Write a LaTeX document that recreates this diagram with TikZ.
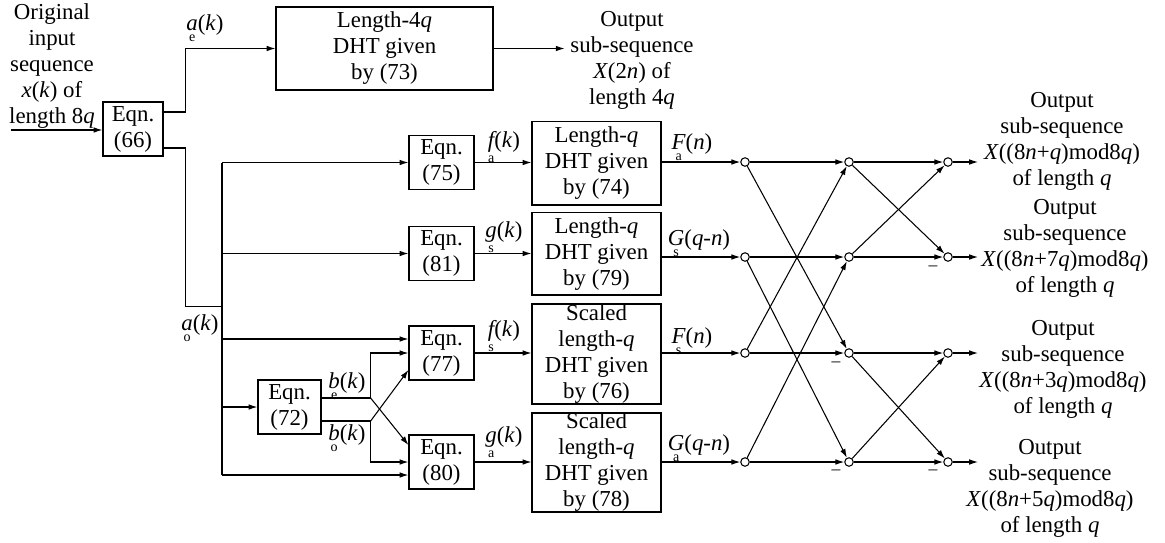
\documentclass[tikz,border=0pt]{standalone}
\usepackage{fontspec}
\setmainfont{Liberation Serif}
\usetikzlibrary{arrows.meta,calc}
\newcommand{\stk}[3][6pt]{\setbox0\hbox{\itshape #2}\rlap{\hbox to\wd0{\hss\raisebox{-#1}{\fontsize{8}{8}\selectfont #3}\hss}}\box0}
\begin{document}
\begin{tikzpicture}[x=0.02cm,y=-0.02cm, line width=0.6pt,
  every node/.style={font=\fontsize{13}{14.8}\selectfont},
  box/.style={draw, line width=0.7pt, align=center, inner sep=0pt},
  eqn/.style={box, minimum width=1.3cm, minimum height=1.08cm},
  dht/.style={box, minimum width=2.58cm},
  lbl/.style={inner sep=0pt, align=center},
  bn/.style={draw, circle, minimum size=0.17cm, inner sep=0pt, line width=0.6pt},
  arr/.style={-{Latex[length=5pt,width=3.2pt]}},
  minus/.style={inner sep=0pt, font=\fontsize{10}{10}\selectfont}
]
\useasboundingbox (0,0) rectangle (1165,542);

% text blocks
\node[lbl] (src) at (52,66) {Original\\input\\sequence\\\textit{x}(\textit{k}) of\\length 8\textit{q}};
\node[lbl] (o0) at (632,60) {Output\\sub-sequence\\\textit{X}(2\textit{n}) of\\length 4\textit{q}};
\node[lbl] (o1) at (1062,141) {Output\\sub-sequence\\\textit{X}((8\textit{n}+\textit{q})mod8\textit{q})\\of length \textit{q}};
\node[lbl] (o2) at (1065,248) {Output\\sub-sequence\\\textit{X}((8\textit{n}+7\textit{q})mod8\textit{q})\\of length \textit{q}};
\node[lbl] (o3) at (1063,369) {Output\\sub-sequence\\\textit{X}((8\textit{n}+3\textit{q})mod8\textit{q})\\of length \textit{q}};
\node[lbl] (o4) at (1050,488) {Output\\sub-sequence\\\textit{X}((8\textit{n}+5\textit{q})mod8\textit{q})\\of length \textit{q}};

% boxes
\node[box, minimum width=1.2cm, minimum height=1.08cm] (eq66) at (133,129) {Eqn.\\(66)};
\node[box, minimum width=4.34cm, minimum height=1.66cm] (dht73) at (384.5,48.5) {Length-4\textit{q}\\DHT given\\by (73)};
\node[eqn] (eq75) at (441.5,162.5) {Eqn.\\(75)};
\node[eqn] (eq81) at (441.5,253.5) {Eqn.\\(81)};
\node[eqn] (eq77) at (441.5,353) {Eqn.\\(77)};
\node[eqn] (eq80) at (441.5,462) {Eqn.\\(80)};
\node[eqn, minimum width=1.26cm] (eq72) at (289.5,407) {Eqn.\\(72)};
\node[dht, minimum height=1.67cm] (dht74) at (596.5,163.3) {Length-\textit{q}\\DHT given\\by (74)};
\node[dht, minimum height=1.65cm] (dht79) at (596.5,253.8) {Length-\textit{q}\\DHT given\\by (79)};
\node[dht, minimum height=2.0cm] (dht76) at (596.5,354) {Scaled\\length-\textit{q}\\DHT given\\by (76)};
\node[dht, minimum height=1.98cm] (dht78) at (596.5,462.5) {Scaled\\length-\textit{q}\\DHT given\\by (78)};

% butterfly nodes
\foreach \r/\y in {1/162,2/257,3/353,4/462}{
  \node[bn] (nA\r) at (745,\y) {};
  \node[bn] (nB\r) at (849,\y) {};
  \node[bn] (nC\r) at (948,\y) {};
  \coordinate (e\r) at ($(nC\r)+(30,0)$);
}

% coordinates
\coordinate (xin) at (11,130);
\coordinate (bj) at (222,306.5);
\coordinate (in77a) at ($(eq77.west)+(0,-14)$);
\coordinate (in77b) at (eq77.west);
\coordinate (in77c) at ($(eq77.west)+(0,17)$);
\coordinate (in80a) at ($(eq80.west)+(0,-17)$);
\coordinate (in80b) at (eq80.west);
\coordinate (in80c) at ($(eq80.west)+(0,13)$);
\coordinate (ebe) at ($(eq72.east)+(0,-9)$);
\coordinate (ebo) at ($(eq72.east)+(0,14)$);
\coordinate (jbe) at ($(eq72.east)+(49,-9)$);
\coordinate (jbo) at ($(eq72.east)+(49,14)$);
\coordinate (t0) at ($(dht73.east)+(71,0)$);

% left part
\draw[arr] (xin) -- (eq66.west |- xin);
\draw[arr] ($(eq66.east)+(0,-17)$) -- ++(22,0) |- (dht73.west);
\draw[arr] (dht73.east) -- (t0);
\draw ($(eq66.east)+(0,19)$) -- ++(22,0) |- (bj);
\draw (bj |- eq75.west) -- (bj |- in80c);
\draw[arr] (bj |- eq75.west) -- (eq75.west);
\draw[arr] (bj |- eq81.west) -- (eq81.west);
\draw[arr] (bj |- in77a) -- (in77a);
\draw[arr] (bj |- eq72.west) -- (eq72.west);
\draw[arr] (bj |- in80c) -- (in80c);

% eqn 72 outputs
\draw (ebe) -- (jbe);
\draw[arr] (jbe) |- (in77b);
\draw[arr] (jbe) -- (in80a);
\draw (ebo) -- (jbo);
\draw[arr] (jbo) |- (in80b);
\draw[arr] (jbo) -- (in77c);

% eqn -> dht
\draw[arr] (eq75.east) -- (eq75.east -| dht74.west);
\draw[arr] (eq81.east) -- (eq81.east -| dht79.west);
\draw[arr] (eq77.east) -- (eq77.east -| dht76.west);
\draw[arr] (eq80.east) -- (eq80.east -| dht78.west);

% dht -> butterfly
\draw[arr] (dht74.east |- nA1) -- (nA1);
\draw[arr] (dht79.east |- nA2) -- (nA2);
\draw[arr] (dht76.east |- nA3) -- (nA3);
\draw[arr] (dht78.east |- nA4) -- (nA4);

% butterfly stage 1
\foreach \r in {1,2,3,4}{\draw[arr] (nA\r) -- (nB\r);}
\draw[arr] (nA1) -- (nB3);
\draw[arr] (nA3) -- (nB1);
\draw[arr] (nA2) -- (nB4);
\draw[arr] (nA4) -- (nB2);
% stage 2
\foreach \r in {1,2,3,4}{\draw[arr] (nB\r) -- (nC\r);}
\draw[arr] (nB1) -- (nC2);
\draw[arr] (nB2) -- (nC1);
\draw[arr] (nB3) -- (nC4);
\draw[arr] (nB4) -- (nC3);
% outputs
\foreach \r in {1,2,3,4}{\draw[arr] (nC\r) -- (e\r);}

% minus signs
\node[minus] (m1) at ($(nB3)+(-13,11)$) {--};
\node[minus] (m2) at ($(nB4)+(-13,10)$) {--};
\node[minus] (m3) at ($(nC2)+(-15,11)$) {--};
\node[minus] (m4) at ($(nC4)+(-15,10)$) {--};

% signal labels
\node[lbl] (lae) at (205,28) {\stk{a}{e}(\textit{k})};
\node[lbl] (lao) at (200,328) {\stk{a}{o}(\textit{k})};
\node[lbl] (lbe) at (347,386) {\stk{b}{e}(\textit{k})};
\node[lbl] (lbo) at (347,438) {\stk{b}{o}(\textit{k})};
\node[lbl] (lfa) at (504,147) {\stk[8.5pt]{f}{a}(\textit{k})};
\node[lbl] (lgs) at (504,237) {\stk[8.5pt]{g}{s}(\textit{k})};
\node[lbl] (lfs) at (504,336) {\stk[8.5pt]{f}{s}(\textit{k})};
\node[lbl] (lga) at (504,442) {\stk[8.5pt]{g}{a}(\textit{k})};
\node[lbl] (lFa) at (692,147) {\stk{F}{a}(\textit{n})};
\node[lbl] (lGs) at (699,243) {\stk{G}{s}(\textit{q}-\textit{n})};
\node[lbl] (lFs) at (692,341) {\stk{F}{s}(\textit{n})};
\node[lbl] (lGa) at (699,448) {\stk{G}{a}(\textit{q}-\textit{n})};
\end{tikzpicture}
\end{document}
